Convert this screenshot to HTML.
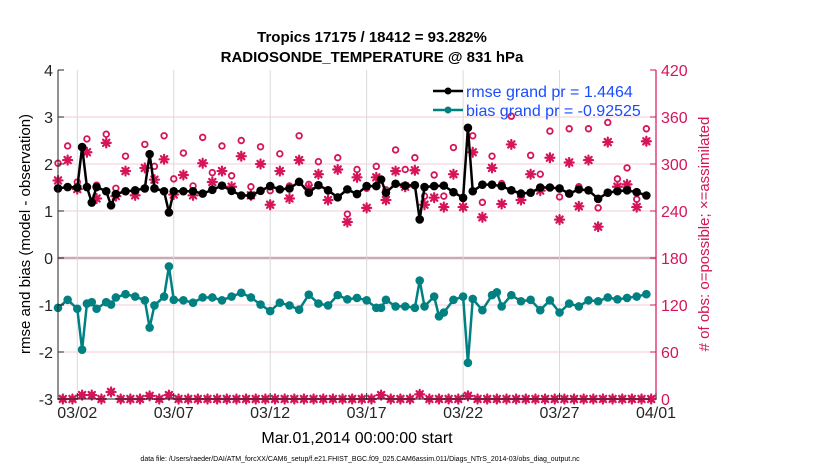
<!DOCTYPE html>
<html><head><meta charset="utf-8">
<style>
html,body{margin:0;padding:0;background:#fff;}
svg{display:block;font-family:"Liberation Sans",Arial,sans-serif;}
</style></head>
<body>
<svg id="chart" width="830" height="470" viewBox="0 0 830 470">
  <rect x="0" y="0" width="830" height="470" fill="#fff"/>
  <text x="372" y="42" text-anchor="middle" font-size="15" font-weight="bold">Tropics 17175 / 18412 = 93.282%</text>
  <text x="372" y="62" text-anchor="middle" font-size="15" font-weight="bold">RADIOSONDE_TEMPERATURE @ 831 hPa</text>
  <g id="grid"></g>
  <g id="marks"></g>
  <g id="axes"></g>
  <text transform="translate(30,234) rotate(-90)" text-anchor="middle" font-size="15">rmse and bias (model - observation)</text>
  <text transform="translate(709,234) rotate(-90)" text-anchor="middle" font-size="15" fill="#d6145a"># of obs: o=possible; ×=assimilated</text>
  <text x="357" y="443" text-anchor="middle" font-size="16">Mar.01,2014 00:00:00 start</text>
  <text x="360" y="461" text-anchor="middle" font-size="7">data file: /Users/raeder/DAI/ATM_forcXX/CAM6_setup/f.e21.FHIST_BGC.f09_025.CAM6assim.011/Diags_NTrS_2014-03/obs_diag_output.nc</text>
  <g id="legend">
    <line x1="433" y1="91" x2="463" y2="91" stroke="#000" stroke-width="2.5"/>
    <circle cx="448" cy="91" r="3.5" fill="#000"/>
    <text x="466" y="97" font-size="16" fill="#1a4cff">rmse grand pr = 1.4464</text>
    <line x1="433" y1="110" x2="463" y2="110" stroke="#008080" stroke-width="2.5"/>
    <circle cx="448" cy="110" r="3.5" fill="#008080"/>
    <text x="466" y="116" font-size="16" fill="#1a4cff">bias grand pr = -0.92525</text>
  </g>
</svg>
<script>
// ---- data ----
const rmseT = [0,0.5,1,1.25,1.5,1.75,2,2.5,2.75,3,3.5,4,4.5,4.75,5,5.5,5.75,6,6.5,7,7.5,8,8.5,9,9.5,10,10.5,11,11.5,12,12.5,13,13.5,14,14.5,15,15.5,16,16.5,16.75,17,17.5,18,18.5,18.75,19,19.5,20,20.5,21,21.25,21.5,22,22.5,23,23.5,24,24.5,25,25.5,26,26.5,27,27.5,28,28.5,29,29.5,30,30.5];
const rmseV = [1.48,1.51,1.50,2.36,1.51,1.18,1.51,1.42,1.12,1.36,1.42,1.44,1.48,2.21,1.48,1.42,0.97,1.42,1.42,1.42,1.37,1.45,1.54,1.43,1.33,1.33,1.43,1.53,1.46,1.48,1.62,1.39,1.55,1.44,1.29,1.46,1.36,1.53,1.53,1.67,1.39,1.58,1.54,1.55,0.82,1.51,1.53,1.54,1.40,1.28,2.77,1.42,1.56,1.56,1.53,1.44,1.37,1.39,1.50,1.50,1.48,1.37,1.46,1.44,1.26,1.39,1.42,1.44,1.40,1.33];
const biasT = [0,0.5,1,1.25,1.5,1.75,2,2.5,2.75,3,3.5,4,4.5,4.75,5,5.5,5.75,6,6.5,7,7.5,8,8.5,9,9.5,10,10.5,11,11.5,12,12.5,13,13.5,14,14.5,15,15.5,16,16.5,16.75,17,17.5,18,18.5,18.75,19,19.5,19.75,20,20.5,21,21.25,21.5,22,22.5,22.75,23,23.5,24,24.5,25,25.5,26,26.5,27,27.5,28,28.5,29,29.5,30,30.5];
const biasV = [-1.06,-0.89,-1.08,-1.95,-0.97,-0.94,-1.08,-0.94,-0.99,-0.84,-0.77,-0.82,-0.90,-1.48,-1.01,-0.82,-0.18,-0.89,-0.90,-0.95,-0.84,-0.84,-0.90,-0.82,-0.74,-0.84,-0.99,-1.13,-0.95,-1.01,-1.10,-0.78,-0.97,-1.01,-0.79,-0.88,-0.85,-0.90,-1.06,-1.06,-0.89,-1.03,-1.03,-1.06,-0.48,-1.03,-0.82,-1.24,-1.16,-0.89,-0.82,-2.23,-0.87,-1.11,-0.79,-0.73,-1.03,-0.79,-0.92,-0.89,-1.11,-0.90,-1.16,-0.97,-1.03,-0.90,-0.92,-0.84,-0.88,-0.85,-0.82,-0.77];
const obsT = [0,0.5,1,1.5,2,2.5,3,3.5,4,4.5,5,5.5,6,6.5,7,7.5,8,8.5,9,9.5,10,10.5,11,11.5,12,12.5,13,13.5,14,14.5,15,15.5,16,16.5,17,17.5,18,18.5,19,19.5,20,20.5,21,21.5,22,22.5,23,23.5,24,24.5,25,25.5,26,26.5,27,27.5,28,28.5,29,29.5,30,30.5];
const possibleN = [301,323,277,332,273,338,269,310,262,325,297,336,281,314,272,334,289,323,285,330,271,322,266,313,272,336,274,303,267,308,236,293,269,297,267,318,293,308,259,286,259,321,256,336,251,310,275,361,263,311,287,342,258,345,271,345,244,353,281,295,255,345];
const assimN = [279,305,268,315,256,327,259,291,260,295,280,306,261,286,260,301,277,291,271,310,260,300,248,291,256,305,269,287,254,293,226,283,244,283,254,291,271,292,248,257,245,287,245,315,232,295,249,325,254,287,266,308,229,302,246,305,220,328,271,274,245,329];
const lowT = [0.25,0.75,1.25,1.75,2.25,2.75,3.25,3.75,4.25,4.75,5.25,5.75,6.25,6.75,7.25,7.75,8.25,8.75,9.25,9.75,10.25,10.75,11.25,11.75,12.25,12.75,13.25,13.75,14.25,14.75,15.25,15.75,16.25,16.75,17.25,17.75,18.25,18.75,19.25,19.75,20.25,20.75,21.25,21.75,22.25,22.75,23.25,23.75,24.25,24.75,25.25,25.75,26.25,26.75,27.25,27.75,28.25,28.75,29.25,29.75,30.25,30.75];
const lowN = [0,0,5,5,0,9,0,0,0,4,0,5,0,0,0,0,0,0,0,0,0,0,0,0,0,0,0,0,0,0,0,0,0,5,0,0,0,6,0,0,0,0,4,0,0,0,0,0,0,0,0,0,0,0,0,0,0,0,0,0,0,0];
const leftTicks = [4,3,2,1,0,-1,-2,-3];
const rightTicks = [420,360,300,240,180,120,60,0];
const dateTicks = [1,6,11,16,21,26,31];
const dateLabels = ["03/02","03/07","03/12","03/17","03/22","03/27","04/01"];

// ---- scales ----
const X0=58, X1=656, Y0=70, Y1=399;
const xS = t => X0 + (t/31)*(X1-X0);
const yL = v => Y1 - (v+3)/7*(Y1-Y0);
const yR = n => Y1 - n/420*(Y1-Y0);
const NS="http://www.w3.org/2000/svg";
function mk(tag, attrs, parent){const e=document.createElementNS(NS,tag);for(const k in attrs)e.setAttribute(k,attrs[k]);parent.appendChild(e);return e;}
const grid=document.getElementById('grid'), marks=document.getElementById('marks'), axes=document.getElementById('axes');
const MAG="#d6145a", TEAL="#008080";

leftTicks.forEach(v=>{ if(v===4||v===-3) return;
  const g=mk('line',{x1:X0,x2:X1,y1:yL(v),y2:yL(v),stroke:v===0?'#c9a9b2':'#f2cdd8','stroke-width':v===0?2.5:1},grid);
  
  
});
dateTicks.forEach(d=>{
  const g=mk('line',{x1:xS(d),x2:xS(d),y1:Y0,y2:Y1,stroke:'#d9d9d9','stroke-width':1},grid);
  
  
});

function star(x,y,parent,name){
  const g=mk('g',{stroke:MAG,'stroke-width':2.2,'stroke-linecap':'round'},parent);
  
  
  const r=4.5;
  mk('line',{x1:x-r,y1:y,x2:x+r,y2:y},g);
  mk('line',{x1:x,y1:y-r,x2:x,y2:y+r},g);
  mk('line',{x1:x-r*0.7,y1:y-r*0.7,x2:x+r*0.7,y2:y+r*0.7},g);
  mk('line',{x1:x-r*0.7,y1:y+r*0.7,x2:x+r*0.7,y2:y-r*0.7},g);
}
obsT.forEach((t,i)=>{
  const c=mk('circle',{cx:xS(t),cy:yR(possibleN[i]),r:2.8,fill:'none',stroke:MAG,'stroke-width':1.8},marks);
  
  
  star(xS(t),yR(assimN[i]),marks,'assimilated-obs-point');
});
lowT.forEach((t,i)=>{
  const n = lowN[i];
  const c=mk('circle',{cx:xS(t),cy:yR(n),r:3.5,fill:MAG},marks);
  
  
  star(xS(t),yR(n),marks,'low-count-assimilated-point');
});

function series(T,V,color,name){
  const p=mk('polyline',{points:T.map((t,i)=>xS(t)+','+yL(V[i])).join(' '),fill:'none',stroke:color,'stroke-width':2.5,'stroke-linejoin':'round'},marks);
  
  
  T.forEach((t,i)=>{
    const c=mk('circle',{cx:xS(t),cy:yL(V[i]),r:4.3,fill:color},marks);
    
    
  });
}
series(rmseT,rmseV,'#000','rmse');
series(biasT,biasV,TEAL,'bias');

const la=mk('line',{x1:X0,x2:X0,y1:Y0,y2:Y1,stroke:'#262626','stroke-width':1},axes);


const ba=mk('line',{x1:X0,x2:X1,y1:Y1,y2:Y1,stroke:'#262626','stroke-width':1},axes);


const ra=mk('line',{x1:X1,x2:X1,y1:Y0,y2:Y1,stroke:MAG,'stroke-width':1.2},axes);


leftTicks.forEach(v=>{
  mk('line',{x1:X0,x2:X0+6,y1:yL(v),y2:yL(v),stroke:'#262626'},axes);
  const t=mk('text',{x:X0-5,y:yL(v)+6,'text-anchor':'end','font-size':16,fill:'#262626'},axes);
  t.textContent=v;
  
  
});
rightTicks.forEach(n=>{
  mk('line',{x1:X1-6,x2:X1,y1:yR(n),y2:yR(n),stroke:MAG},axes);
  const t=mk('text',{x:X1+5,y:yR(n)+6,'font-size':16,fill:MAG},axes);
  t.textContent=n;
  
  
});
dateTicks.forEach((d,i)=>{
  mk('line',{x1:xS(d),x2:xS(d),y1:Y1,y2:Y1-6,stroke:'#262626'},axes);
  const t=mk('text',{x:xS(d),y:Y1+19,'text-anchor':'middle','font-size':16,fill:'#262626'},axes);
  t.textContent=dateLabels[i];
  
  
});
</script>
</body></html>
